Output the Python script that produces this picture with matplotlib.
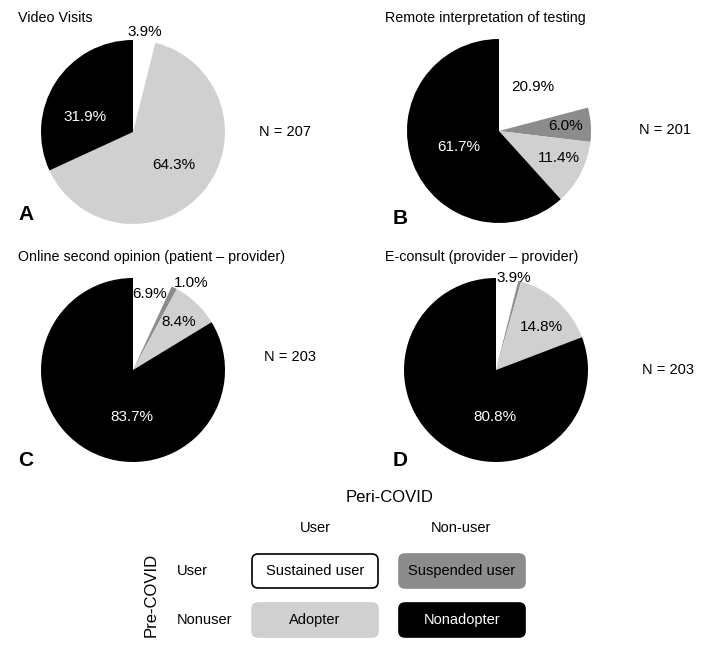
import matplotlib
matplotlib.use("Agg")
import matplotlib.pyplot as plt
import numpy as np
from matplotlib.patches import FancyBboxPatch

plt.rcParams['font.family'] = ['Liberation Sans', 'DejaVu Sans']

# data: percentages in order sustained, suspended, adopter, nonadopter
categories = ['Sustained user', 'Suspended user', 'Adopter', 'Nonadopter']
titles = ['Video Visits', 'Remote interpretation of testing',
          'Online second opinion (patient \u2013 provider)', 'E-consult (provider \u2013 provider)']
panel_letters = ['A', 'B', 'C', 'D']
n_values = [207, 201, 203, 203]
video_visits = [3.9, 0.0, 64.3, 31.9]
remote_testing = [20.9, 6.0, 11.4, 61.7]
second_opinion = [6.9, 1.0, 8.4, 83.7]
e_consult = [3.9, 0.5, 14.8, 80.8]
shown_labels = [[True, False, True, True],
                [True, True, True, True],
                [True, True, True, True],
                [True, False, True, True]]

colors = ['white', '#8c8c8c', '#d0d0d0', 'black']
text_colors = ['black', 'black', 'black', 'white']

W, H = 701, 648
fig = plt.figure(figsize=(W / 100, H / 100), dpi=100)

# layout (pixels): pie centre, radius, label (distance, angle override or None)
centres = [(133, 132), (499, 131), (133, 370), (496, 370)]
R = 92
label_pos = [
    [(1.09, None), None, (0.57, None), (0.55, 163)],
    [(0.61, None), (0.73, None), (0.71, -24), (0.47, None)],
    [(0.85, None), (1.14, 56), (0.72, None), (0.51, -91)],
    [(1.02, 79), None, (0.68, 43), (0.51, -91)],
]
n_pos = [(285, 132), (665, 130), (290, 357), (668, 370)]
title_pos = [(18, 18), (385, 18), (18, 257), (385, 257)]
letter_pos = [(18, 215), (393, 218), (18, 460), (393, 460)]

all_data = [video_visits, remote_testing, second_opinion, e_consult]

for i, vals in enumerate(all_data):
    cx, cy = centres[i]
    ax = fig.add_axes([(cx - R) / W, (H - cy - R) / H, 2 * R / W, 2 * R / H])
    wedges, _ = ax.pie(vals, colors=colors, startangle=90, counterclock=False,
                       wedgeprops=dict(linewidth=0))
    ax.set_xlim(-1, 1)
    ax.set_ylim(-1, 1)
    ax.set_aspect('equal')
    ax.axis('off')
    for j, w in enumerate(wedges):
        if not shown_labels[i][j] or label_pos[i][j] is None:
            continue
        d, ang = label_pos[i][j]
        if ang is None:
            ang = (w.theta1 + w.theta2) / 2
        a = np.deg2rad(ang)
        tc = text_colors[j] if d < 1 else 'black'
        ax.text(d * np.cos(a), d * np.sin(a), f'{vals[j]:.1f}%', ha='center', va='center',
                fontsize=11, color=tc, clip_on=False)

# overlay axes in pixel coordinates
ov = fig.add_axes([0, 0, 1, 1], zorder=-1)
ov.set_xlim(0, W)
ov.set_ylim(H, 0)
ov.axis('off')

for i in range(4):
    ov.text(*title_pos[i], titles[i], ha='left', va='center', fontsize=10.3)
    ov.text(*n_pos[i], f'N = {n_values[i]}', ha='center', va='center', fontsize=10.5)
    ov.text(*letter_pos[i], panel_letters[i], ha='left', va='center', fontsize=15,
            fontweight='bold')

# legend matrix
ov.text(390, 497, 'Peri-COVID', ha='center', va='center', fontsize=12)
ov.text(315, 528, 'User', ha='center', va='center', fontsize=10.5)
ov.text(461, 528, 'Non-user', ha='center', va='center', fontsize=10.5)
ov.text(177, 571, 'User', ha='left', va='center', fontsize=10.5)
ov.text(177, 620, 'Nonuser', ha='left', va='center', fontsize=10.5)
ov.text(151, 595, 'Pre-COVID', ha='center', va='center', fontsize=12, rotation=90)

box_xy = [(252, 554), (399, 554), (252, 603), (399, 603)]
bw, bh = 126, 34
for k, cat in enumerate(categories):
    x0, y0 = box_xy[k]
    ec = 'black' if k == 0 else colors[k]
    p = FancyBboxPatch((x0, y0), bw, bh, boxstyle='round,pad=0,rounding_size=6',
                       facecolor=colors[k], edgecolor=ec, linewidth=1.2)
    ov.add_patch(p)
    ov.text(x0 + bw / 2, y0 + bh / 2, cat, ha='center', va='center', fontsize=10.5,
            color=text_colors[k])

fig.savefig('out.png', dpi=100)
